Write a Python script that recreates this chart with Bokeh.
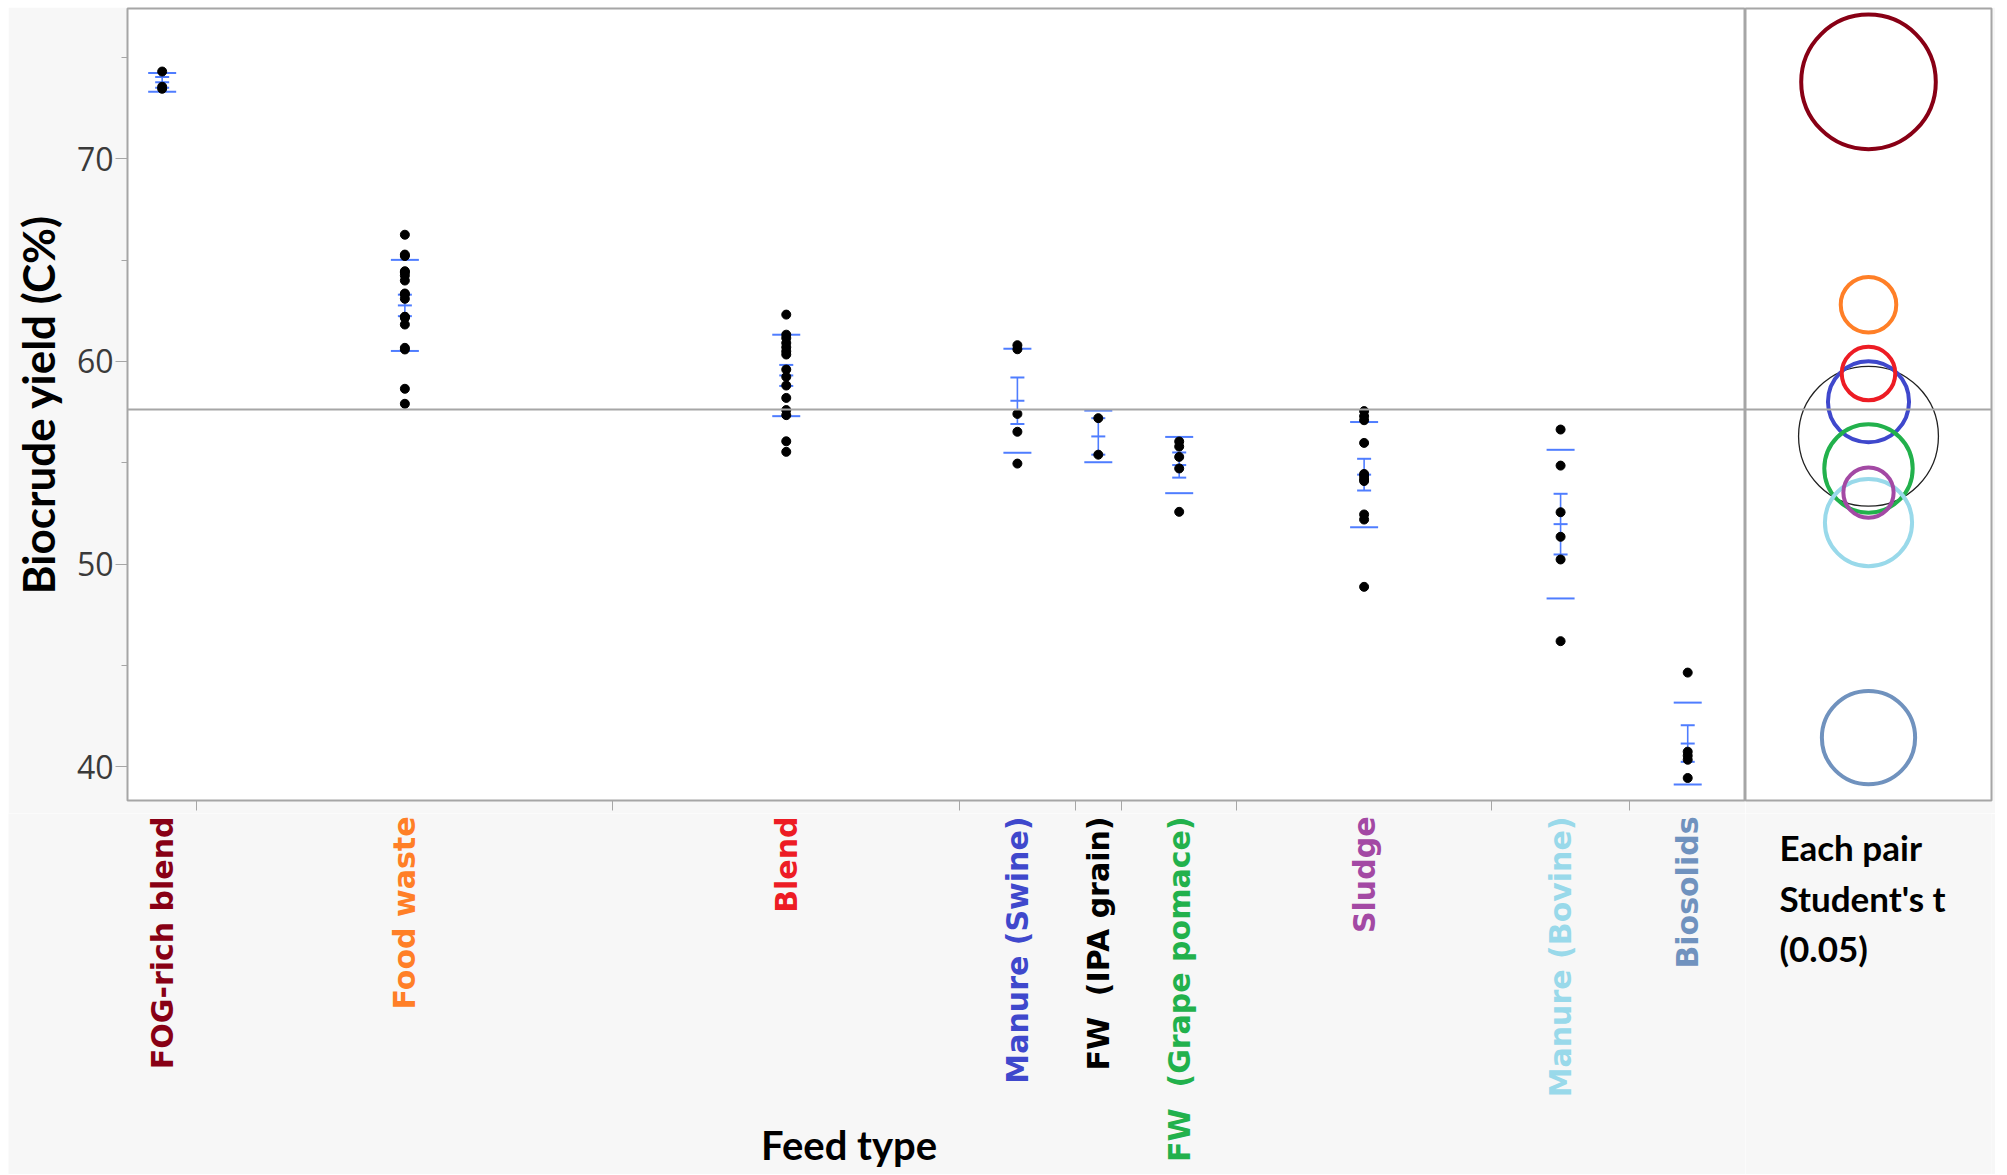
import math
import numpy as np
from bokeh.plotting import figure
from bokeh.layouts import row, column
from bokeh.models import ColumnDataSource, FixedTicker, Range1d, Span, Spacer
from bokeh.embed import file_html
from bokeh.resources import INLINE
from bokeh.core.properties import value

# ---------------- data ----------------
groups = ["FOG-rich blend", "Food waste", "Blend", "Manure (Swine)",
          "FW\u00a0 (IPA grain)", "FW\u00a0 (Grape pomace)", "Sludge",
          "Manure (Bovine)", "Biosolids"]
label_colors = ["#880015", "#FF7F27", "#ED1C24", "#3F48CC", "#000000",
                "#22B14C", "#A349A4", "#99D9EA", "#7092BE"]

fog_rich_blend = [74.3, 73.55, 73.45]
food_waste = [66.25, 65.27, 65.2, 64.45, 64.4, 64.24, 63.99, 63.35, 63.3,
              63.09, 62.2, 62.2, 62.15, 61.82, 60.67, 60.59, 58.65, 57.91]
blend = [62.31, 61.32, 61.15, 60.91, 60.7, 60.5, 60.34, 59.6, 59.24, 58.81,
         58.2, 57.6, 57.35, 56.06, 55.54]
manure_swine = [60.8, 60.6, 57.41, 56.53, 54.96]
fw_ipa_grain = [57.2, 55.4]
fw_grape_pomace = [56.05, 55.8, 55.29, 54.72, 52.58]
sludge = [57.55, 57.3, 57.1, 55.98, 54.45, 54.35, 54.2, 54.1, 52.45, 52.2, 48.88]
manure_bovine = [56.64, 54.86, 52.56, 51.35, 50.23, 46.2]
biosolids = [44.65, 40.75, 40.55, 40.35, 39.45]

yield_values = [fog_rich_blend, food_waste, blend, manure_swine, fw_ipa_grain,
                fw_grape_pomace, sludge, manure_bovine, biosolids]

# comparison circles (Student's t, 0.05): centre and radius in yield units
circle_center = [73.79, 62.8, 59.4, 58.01, 56.31, 54.72, 53.53, 52.05, 41.44]
circle_radius = [3.32, 1.37, 1.32, 2.0, 3.45, 2.18, 1.24, 2.15, 2.3]

y_ticks = [40, 50, 60, 70]
y_minor_ticks = [45, 55, 65, 75]

x_title = "Feed type"
y_title = "Biocrude yield (C%)"
test_lines = ["Each pair", "Student's t", "(0.05)"]

# ---------------- derived ----------------
counts = [len(v) for v in yield_values]
bounds = np.concatenate([[0], np.cumsum(counts)])
centers = (bounds[:-1] + bounds[1:]) / 2.0
total = float(bounds[-1])

px, py = [], []
for c, vals in zip(centers, yield_values):
    px += [c] * len(vals)
    py += list(vals)

means = np.array([np.mean(v) for v in yield_values])
sds = np.array([np.std(v, ddof=1) for v in yield_values])
ses = sds / np.sqrt(counts)
grand_mean = float(np.mean(py))

BLUE = "#4f7dff"
GRAY = "#a6a6a6"
BG = "#f7f7f7"

H_TOP = 806      # main plot canvas height
H_BOT = 361      # label strip height
W_MAIN = 1737
W_CIRC = 250
LEFT = 119

p = figure(width=W_MAIN, height=H_TOP, x_range=Range1d(0, total),
           y_range=Range1d(38.34, 77.41), output_backend="svg",
           toolbar_location=None, min_border_left=LEFT, min_border_right=0,
           min_border_top=1, min_border_bottom=13)
p.background_fill_color = "white"
p.border_fill_color = BG
p.outline_line_color = GRAY
p.outline_line_width = 2
p.xgrid.visible = False
p.ygrid.visible = False

p.yaxis.ticker = FixedTicker(ticks=y_ticks, minor_ticks=y_minor_ticks)
p.yaxis.axis_line_color = None
p.yaxis.major_tick_out = 12
p.yaxis.major_tick_in = 0
p.yaxis.minor_tick_out = 6
p.yaxis.minor_tick_in = 0
p.yaxis.major_tick_line_color = GRAY
p.yaxis.minor_tick_line_color = GRAY
p.yaxis.major_label_text_font = "Open Sans"
p.yaxis.major_label_text_font_size = "32px"
p.yaxis.major_label_text_color = "#3a3a3a"
p.yaxis.major_label_standoff = 2
p.yaxis.axis_label = y_title
p.yaxis.axis_label_text_font = "Lato"
p.yaxis.axis_label_text_font_style = "bold"
p.yaxis.axis_label_text_font_size = "44px"
p.yaxis.axis_label_text_color = "black"
p.yaxis.axis_label_standoff = 10

inner = [float(b) for b in bounds[1:-1]]
p.xaxis.ticker = FixedTicker(ticks=inner)
p.xaxis.major_label_overrides = {int(b): "" for b in inner}
p.xaxis.major_label_text_font_size = "1px"
p.xaxis.major_label_standoff = 0
p.xaxis.axis_line_color = None
p.xaxis.major_tick_out = 10
p.xaxis.major_tick_in = 0
p.xaxis.major_tick_line_color = GRAY
p.xaxis.minor_tick_out = 0

p.add_layout(Span(location=grand_mean, dimension="width", line_color=GRAY, line_width=2))

# std dev lines
sd_src = ColumnDataSource(dict(x=list(centers) * 2, y=list(means + sds) + list(means - sds)))
p.scatter("x", "y", source=sd_src, marker="dash", size=28, line_color=BLUE, line_width=2)
# SE error bars with mean tick
p.segment(x0=centers, y0=means - ses, x1=centers, y1=means + ses, line_color=BLUE, line_width=1.6)
cap_src = ColumnDataSource(dict(x=list(centers) * 3,
                                y=list(means - ses) + list(means) + list(means + ses)))
p.scatter("x", "y", source=cap_src, marker="dash", size=14, line_color=BLUE, line_width=2)
# data points
p.scatter(px, py, size=9, color="black")

# ---------------- comparison circles panel ----------------
p2 = figure(width=W_CIRC, height=H_TOP, x_range=Range1d(0, 1), y_range=p.y_range,
            output_backend="svg", toolbar_location=None, x_axis_location=None,
            y_axis_location=None, min_border_left=0, min_border_right=4,
            min_border_top=1, min_border_bottom=13)
p2.background_fill_color = "white"
p2.border_fill_color = BG
p2.outline_line_color = GRAY
p2.outline_line_width = 2
p2.xgrid.visible = False
p2.ygrid.visible = False
p2.add_layout(Span(location=grand_mean, dimension="width", line_color=GRAY, line_width=2))

order = [4, 0, 1, 3, 2, 5, 7, 6, 8]
cx = (p2.x_range.start + p2.x_range.end) / 2.0
circ_src = ColumnDataSource(dict(
    x=[cx] * len(order),
    y=[circle_center[i] for i in order],
    r=[circle_radius[i] for i in order],
    c=[label_colors[i] if label_colors[i] != "#000000" else "#222222" for i in order],
    w=[1.3 if label_colors[i] == "#000000" else 4 for i in order],
))
p2.circle(x="x", y="y", radius="r", radius_dimension="y", source=circ_src,
          fill_color=None, line_color="c", line_width="w")

# ---------------- label strips (below the plots) ----------------
def strip(width, x_range, right):
    f = figure(width=width, height=H_BOT, x_range=x_range, y_range=Range1d(-H_BOT, 0),
               output_backend="svg", toolbar_location=None, x_axis_location=None,
               y_axis_location=None, min_border_left=0, min_border_right=right,
               min_border_top=0, min_border_bottom=0)
    f.background_fill_color = BG
    f.border_fill_color = BG
    f.outline_line_color = None
    f.xgrid.visible = False
    f.ygrid.visible = False
    return f

# strip under the main plot: its frame spans the whole width, with the same
# x scale as the main plot (left part covers the y-axis margin)
px_per_unit = (W_MAIN - LEFT) / total
p3 = strip(W_MAIN, Range1d(-LEFT / px_per_unit, total), 0)
lab_src = ColumnDataSource(dict(x=centers, name=groups, color=label_colors))
p3.text(x="x", y=-3, text="name", text_color="color", source=lab_src,
        angle=math.pi / 2, text_align="right", text_baseline="middle",
        text_font=value("DejaVu Sans"), text_font_style="bold", text_font_size="30px")
p3.text(x=[total * 0.446], y=[-331], text=[x_title], text_align="center",
        text_baseline="middle", text_font=value("Lato"), text_font_style="bold",
        text_font_size="40px", text_color="black")

p4 = strip(W_CIRC, p2.x_range, 4)
p4.text(x=[0.138] * 3, y=[-33, -84, -134], text=test_lines, text_align="left",
        text_baseline="alphabetic", text_font=value("Lato"), text_font_style="bold",
        text_font_size="35px", text_color="black")

layout = column(Spacer(height=7),
                row(Spacer(width=8),
                    column(row(p, p2, spacing=0), row(p3, p4, spacing=0), spacing=0),
                    spacing=0),
                spacing=0)
open("out.html", "w").write(file_html(layout, INLINE))
